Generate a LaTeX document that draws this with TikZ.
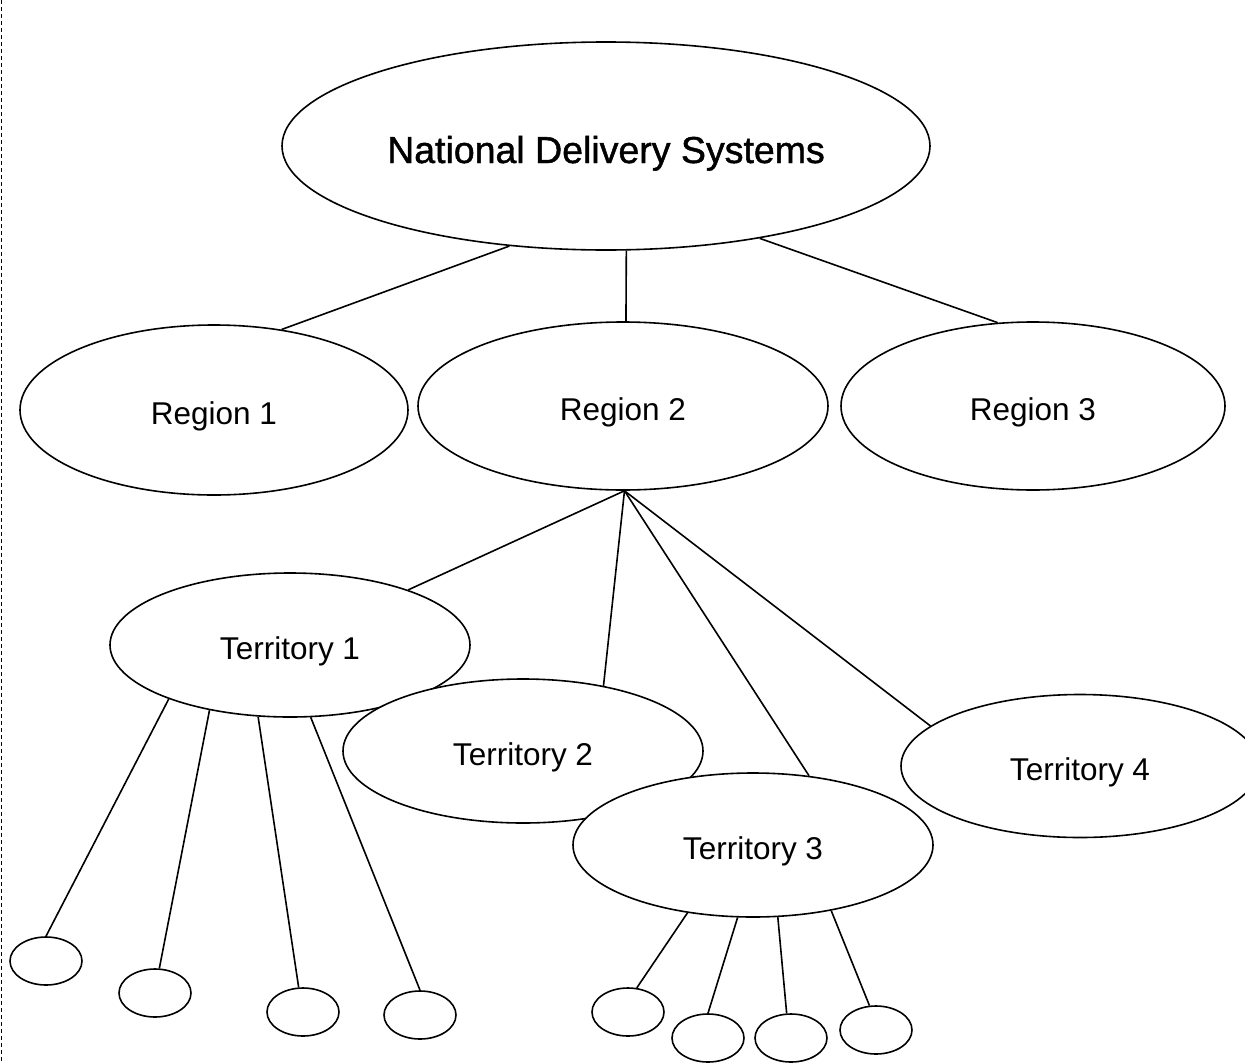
\documentclass[tikz,border=0pt]{standalone}
\usepackage{fontspec}
\setmainfont{Liberation Sans}
\newfontfamily\natfont[FakeBold=1.2]{Liberation Sans}
\usetikzlibrary{shapes.geometric}
\begin{document}
\begin{tikzpicture}[x=1pt,y=-1pt,line width=1.6pt,
  oval/.style={ellipse,draw,fill=white,inner sep=0pt,text height=28pt,text depth=0pt,font=\fontsize{31.5}{38}\selectfont},
  leaf/.style={ellipse,draw,fill=white,inner sep=0pt,minimum width=72pt,minimum height=48pt}]
\useasboundingbox (0,0) rectangle (1245,1063);
\draw[line width=1pt,dash pattern=on 4pt off 3pt] (1,0) -- (1,1063);
\node[oval,minimum width=648pt,minimum height=208pt,text height=34pt,font=\natfont\fontsize{37.5}{44}\selectfont] (nat) at (606,146) {National Delivery Systems};
\node[oval,minimum width=388pt,minimum height=170pt] (reg1) at (214,410) {Region 1};
\node[oval,minimum width=410pt,minimum height=168pt] (reg2) at (623,406) {Region 2};
\node[oval,minimum width=384pt,minimum height=168pt] (reg3) at (1033,406) {Region 3};
\node[oval,minimum width=360pt,minimum height=144pt] (ter1) at (290,645) {Territory 1};
\node[oval,minimum width=360pt,minimum height=144pt] (ter2) at (523,751) {Territory 2};
\node[oval,minimum width=360pt,minimum height=144pt] (ter3) at (753,845) {Territory 3};
\node[oval,minimum width=358pt,minimum height=143pt] (ter4) at (1080,766) {Territory 4};
\node[leaf] (a1) at (46,961) {};
\node[leaf] (a2) at (155,993) {};
\node[leaf] (a3) at (303,1012) {};
\node[leaf] (a4) at (420,1015) {};
\node[leaf] (b1) at (628,1012) {};
\node[leaf] (b2) at (708,1038) {};
\node[leaf] (b3) at (791,1038) {};
\node[leaf] (b4) at (876,1030) {};
\draw (nat.-134) -- (reg1.50);
\draw (nat.-79) -- (reg2.88);
\draw (nat.-31) -- (reg3.113);
\draw (reg2.-89) -- (ter1.25);
\draw (reg2.-89) -- (ter2.39);
\draw (reg2.-89) -- (ter3.51);
\draw (reg2.-89) -- (ter4.165);
\draw (ter1.-156) -- (a1.north);
\draw (ter1.-141) -- (a2.80);
\draw (ter1.-114) -- (a3.100);
\draw (ter1.-74) -- (a4.north);
\draw (ter3.-134) -- (b1.70);
\draw (ter3.-102) -- (b2.north);
\draw (ter3.-71) -- (b3.100);
\draw (ter3.-40) -- (b4.105);
\end{tikzpicture}
\end{document}
